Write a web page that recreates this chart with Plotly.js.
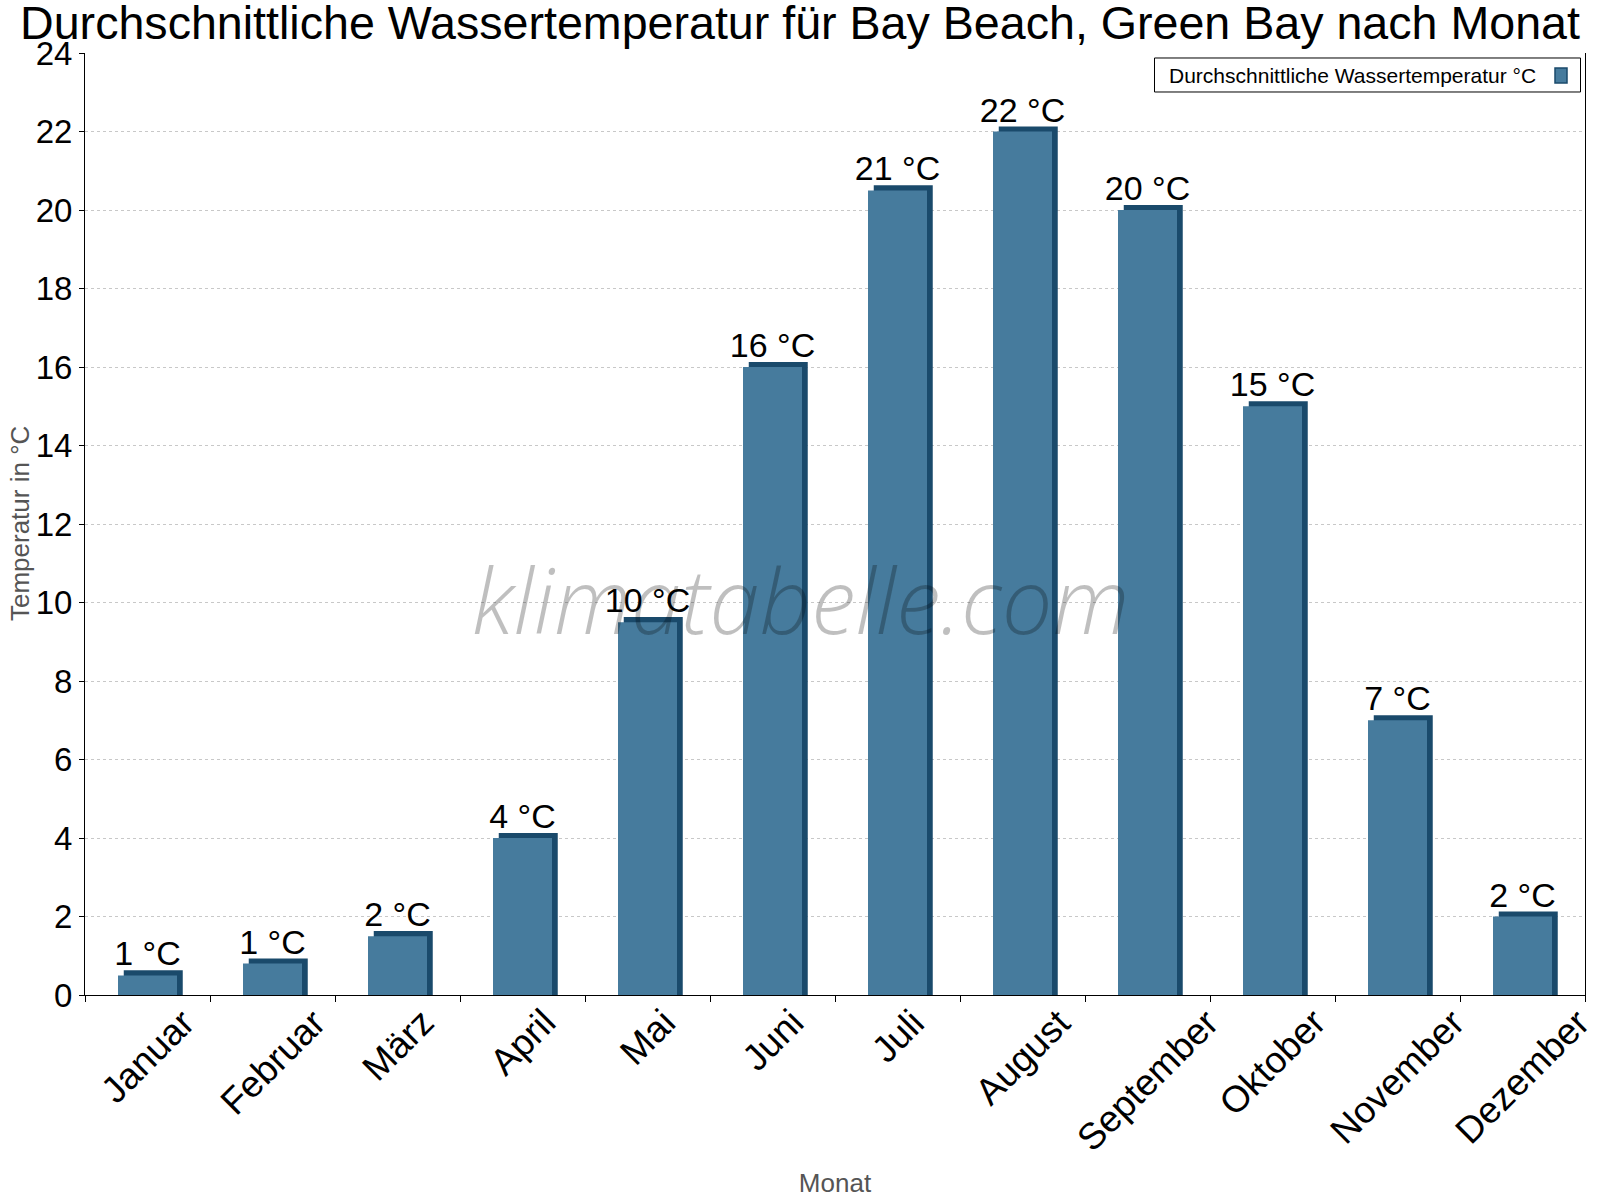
<!DOCTYPE html>
<html lang="de">
<head>
<meta charset="utf-8">
<title>Wassertemperatur Bay Beach, Green Bay</title>
<script src="https://cdn.plot.ly/plotly-3.0.1.min.js"></script>
<style>
    html, body { margin: 0; padding: 0; background: #fff; }
    #chart { width: 1600px; height: 1200px; }
</style>
</head>
<body>
<div id="chart"></div>
<script>
const months = ['Januar', 'Februar', 'März', 'April', 'Mai', 'Juni', 'Juli', 'August', 'September', 'Oktober', 'November', 'Dezember'];
const waterTemp = [0.5, 0.8, 1.5, 4, 9.5, 16, 20.5, 22, 20, 15, 7, 2];
const tempLabels = ['1 °C', '1 °C', '2 °C', '4 °C', '10 °C', '16 °C', '21 °C', '22 °C', '20 °C', '15 °C', '7 °C', '2 °C'];
const yTicks = [0, 2, 4, 6, 8, 10, 12, 14, 16, 18, 20, 22, 24];

const FONT = 'Liberation Sans, Arial, sans-serif';
const FRONT = '#467b9d';
const DARK = '#1a4a6b';

// fake 3d: a dark bar pushed a little right and up, the front bar on top of it
const BAR_W = 0.472;
const DEPTH_X = 0.046;
const DEPTH_Y = 0.13;

const back = {
    x: months,
    y: waterTemp.map(v => v + DEPTH_Y),
    type: 'bar',
    width: BAR_W,
    offset: -BAR_W / 2 + DEPTH_X,
    marker: { color: DARK, line: { width: 0 } },
    hoverinfo: 'skip',
    showlegend: false
};

const front = {
    x: months,
    y: waterTemp,
    type: 'bar',
    width: BAR_W,
    offset: -BAR_W / 2,
    marker: { color: FRONT, line: { width: 0 } },
    text: tempLabels,
    textposition: 'outside',
    constraintext: 'none',
    cliponaxis: false,
    textfont: { family: FONT, size: 34, color: '#000' },
    hoverinfo: 'skip',
    name: 'Durchschnittliche Wassertemperatur °C',
    showlegend: false
};

// month labels centred under each bar, rotated
const monthLabels = months.map(m => ({
    x: m,
    y: 0,
    xref: 'x',
    yref: 'paper',
    text: m,
    textangle: -45,
    xanchor: 'center',
    yanchor: 'top',
    yshift: -4,
    showarrow: false,
    font: { family: FONT, size: 37, color: '#000' }
}));

const annotations = [
    ...monthLabels,
    {
        x: 0.477, y: 0.42, xref: 'paper', yref: 'paper',
        text: 'klimatabelle.com',
        showarrow: false,
        xanchor: 'center', yanchor: 'middle',
        font: { family: 'Open Sans, sans-serif', size: 90, style: 'italic', weight: 300, color: 'rgba(0,0,0,0.25)' }
    },
    {
        x: 0.7213, y: 0.9766, xref: 'paper', yref: 'paper',
        text: 'Durchschnittliche Wassertemperatur °C',
        showarrow: false,
        xanchor: 'left', yanchor: 'middle',
        font: { family: FONT, size: 21, color: '#000' }
    },
    {
        x: -0.0433, y: 0.5, xref: 'paper', yref: 'paper',
        text: 'Temperatur in °C',
        textangle: -90,
        showarrow: false,
        xanchor: 'center', yanchor: 'middle',
        font: { family: FONT, size: 26, color: '#555' }
    }
];

const shapes = [
    {
        type: 'rect', xref: 'paper', yref: 'paper',
        x0: 0.713, x1: 0.997, y0: 0.9586, y1: 0.9947,
        line: { color: '#000', width: 1 },
        fillcolor: '#fff'
    },
    {
        type: 'rect', xref: 'paper', yref: 'paper',
        x0: 0.98, x1: 0.988, y0: 0.9682, y1: 0.9841,
        line: { color: DARK, width: 1.5 },
        fillcolor: FRONT
    }
];

const layout = {
    width: 1600,
    height: 1200,
    margin: { l: 85, r: 15, t: 53, b: 205 },
    paper_bgcolor: '#fff',
    plot_bgcolor: '#fff',
    barmode: 'overlay',
    showlegend: false,
    hovermode: false,
    title: {
        text: 'Durchschnittliche Wassertemperatur für Bay Beach, Green Bay nach Monat',
        font: { family: FONT, size: 46.6, color: '#000' },
        x: 0.5,
        xref: 'container',
        xanchor: 'center',
        y: 0.981,
        yref: 'container',
        yanchor: 'middle'
    },
    xaxis: {
        type: 'category',
        range: [-0.5, months.length - 0.5],
        showticklabels: false,
        ticks: 'outside',
        tickson: 'boundaries',
        ticklen: 6,
        tickcolor: '#000',
        showline: true,
        linecolor: '#000',
        linewidth: 1,
        showgrid: false,
        zeroline: false,
        title: {
            text: 'Monat',
            font: { family: FONT, size: 26, color: '#555' },
            standoff: 178
        },
        automargin: false
    },
    yaxis: {
        range: [0, 24],
        tickvals: yTicks,
        ticktext: yTicks.map(String),
        ticks: 'outside',
        ticklen: 5,
        tickcolor: '#000',
        tickfont: { family: FONT, size: 33, color: '#000' },
        showline: true,
        mirror: true,
        linecolor: '#000',
        linewidth: 1,
        showgrid: true,
        gridcolor: '#c8c8c8',
        griddash: 'dot',
        gridwidth: 1,
        zeroline: false,
        automargin: false
    },
    annotations: annotations,
    shapes: shapes
};

Plotly.newPlot('chart', [back, front], layout, { displayModeBar: false, responsive: false });
</script>
</body>
</html>
